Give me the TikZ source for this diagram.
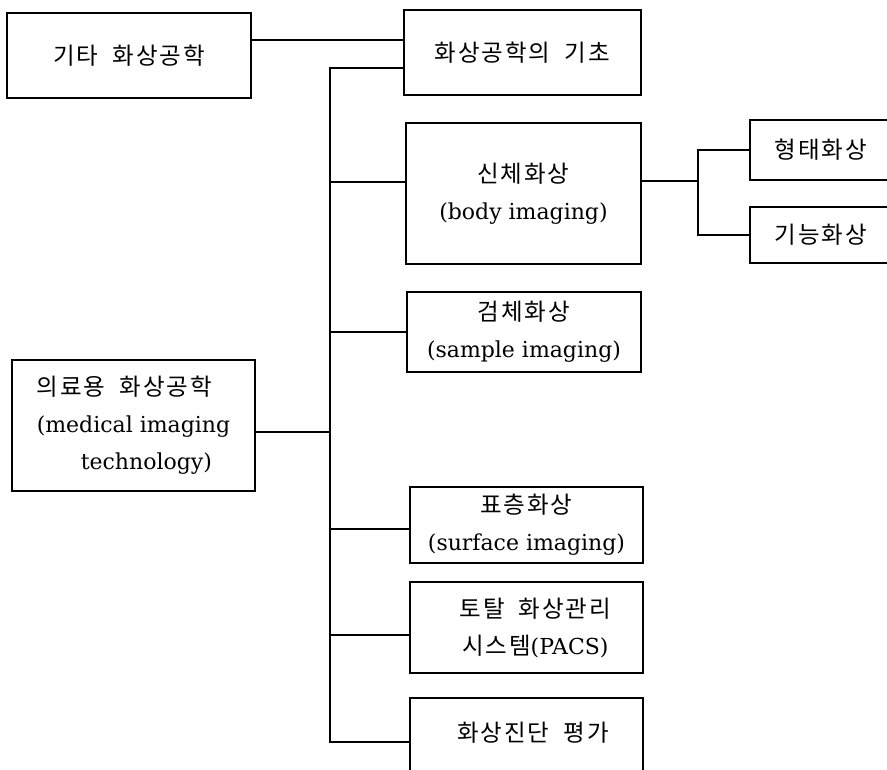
\documentclass[tikz,border=0pt]{standalone}
\usepackage{fontspec}
\setmainfont{DejaVu Serif}
\newfontfamily\kr[LetterSpace=8]{Noto Sans CJK KR}
\tikzset{
  box/.style={draw, line width=1.4pt, rectangle, inner sep=0pt, align=center,
    font=\fontsize{22}{37}\selectfont},
  link/.style={line width=1.4pt},
  lbl/.style={inner sep=0pt, align=center, font=\fontsize{22}{37}\selectfont}
}
\newcommand{\K}[1]{{\kr\fontsize{23.5}{37}\selectfont #1}}
\begin{document}
\begin{tikzpicture}[x=1pt,y=-1pt]
\useasboundingbox (0,0) rectangle (887,770);
\clip (0,0) rectangle (887,770);
\fill[white] (0,0) rectangle (887,770);

% boxes
\node[box, minimum width=244, minimum height=85] (A) at (129,55.5) {\K{기타\ \ 화상공학}};
\node[box, minimum width=237, minimum height=85] (B) at (522.5,52.5) {\K{화상공학의\ \ 기초}};
\node[box, minimum width=235, minimum height=141] (C) at (523.5,193.5) {\K{신체화상}\\(body imaging)};
\node[box, minimum width=142, minimum height=60] (D) at (821,150) {\K{형태화상}};
\node[box, minimum width=142, minimum height=56] (E) at (821,235) {\K{기능화상}};
\node[box, minimum width=234, minimum height=80] (F) at (524,332) {\K{검체화상}\\(sample imaging)};
\node[box, minimum width=243, minimum height=131, align=left] (G) at (133.5,425.5) {\K{의료용\ \ 화상공학}\\(medical imaging\\\hspace*{2em}technology)};
\node[box, minimum width=233, minimum height=76] (H) at (526.5,525) {\K{표층화상}\\(surface imaging)};
\node[box, minimum width=233, minimum height=91] (I) at (526.5,627.5) {\hspace*{0.8em}\K{토탈\ \ 화상관리}\\\hspace*{0.8em}\K{시스템}(PACS)};
\node[box, minimum width=233, minimum height=102] (J) at (526.5,749) {};
\node[lbl] (Jt) at (533,733) {\K{화상진단\ \ 평가}};

% trunk coordinates
\coordinate (Ttop) at (330,68);
\coordinate (Tbot) at (330,742);

% connectors
\draw[link] (A.east |- 0,40) -- (B.west |- 0,40);
\draw[link] (B.west |- Ttop) -- (Ttop) -- (Tbot) -- (J.west |- Tbot);
\draw[link] (330,182) -- (C.west |- 0,182);
\draw[link] (330,332) -- (F.west);
\draw[link] (G.east |- 0,432) -- (330,432);
\draw[link] (330,529) -- (H.west |- 0,529);
\draw[link] (330,635) -- (I.west |- 0,635);

\coordinate (Cj) at (698,181);
\draw[link] (C.east |- Cj) -- (Cj);
\draw[link] (D.west) -| (Cj) |- (E.west);
\end{tikzpicture}
\end{document}
